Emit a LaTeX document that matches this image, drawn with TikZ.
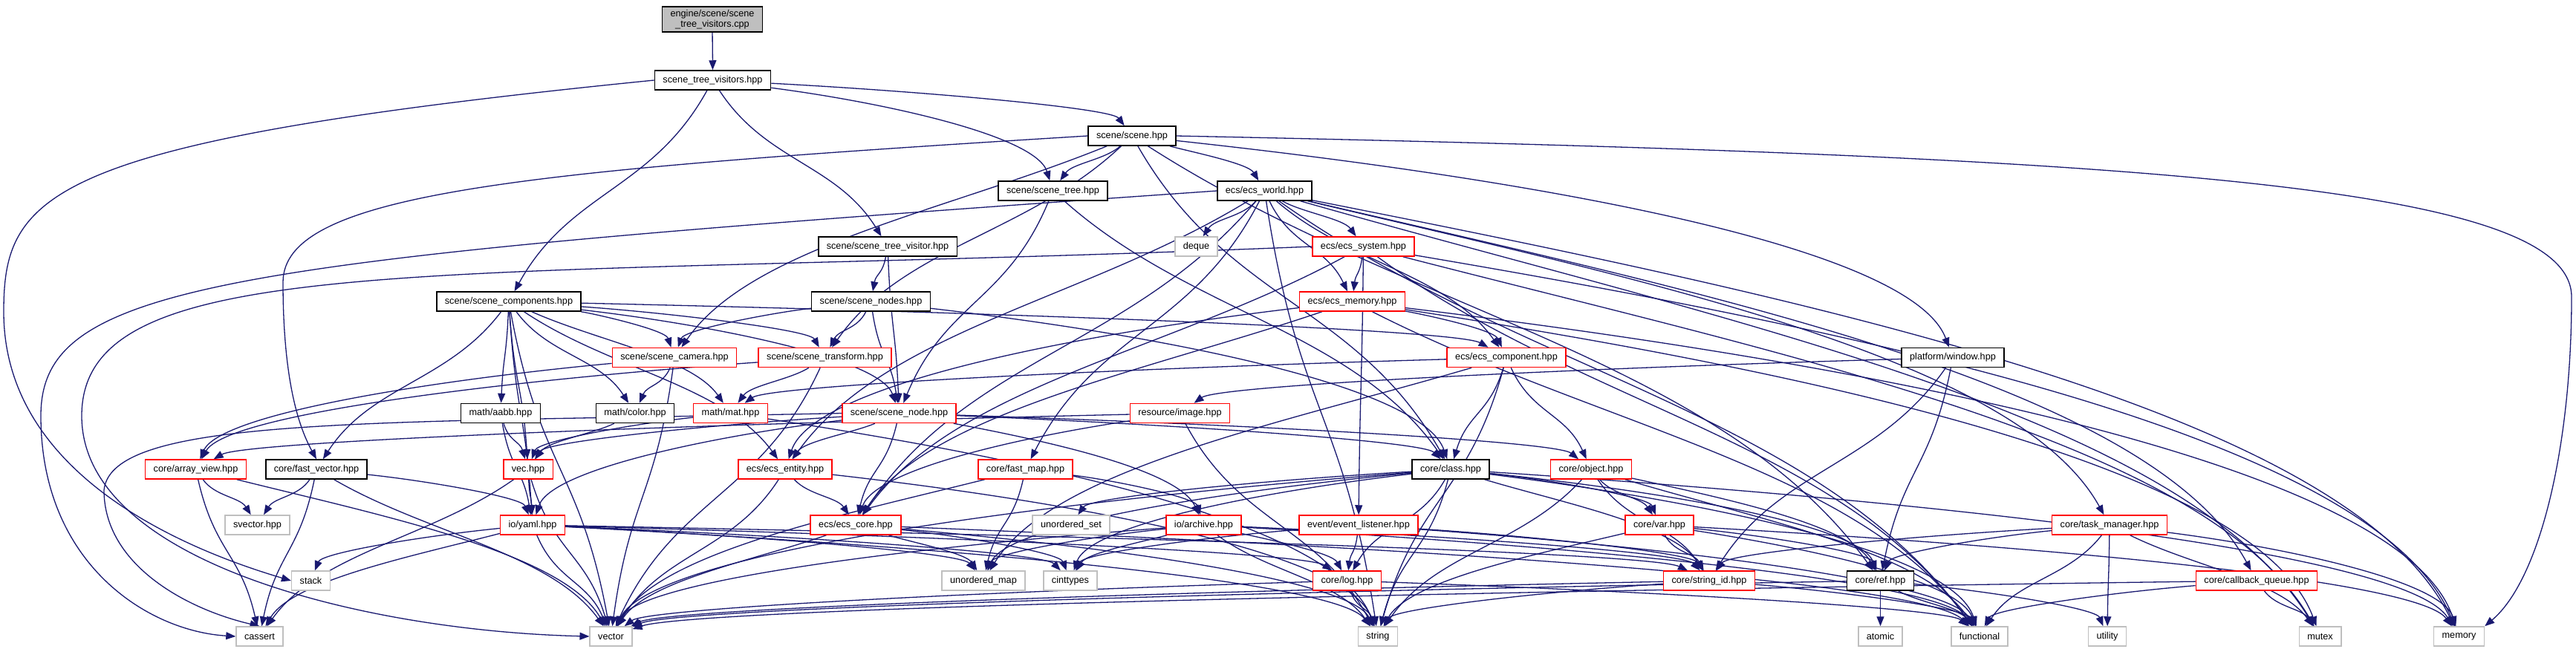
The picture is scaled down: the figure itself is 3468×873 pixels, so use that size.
\documentclass[tikz,border=0pt]{standalone}
\usepackage{fontspec}
\setmainfont{Liberation Sans}
\usetikzlibrary{arrows.meta,calc}
\definecolor{edgeblue}{RGB}{25,25,112}
\definecolor{sysgray}{RGB}{191,191,191}
\pgfdeclarelayer{bg}
\pgfsetlayers{bg,main}
\tikzset{
  file/.style={draw, line width=1.5pt, fill=white, minimum height=26pt,
    inner xsep=11pt, inner ysep=2pt, font=\fontsize{12.7}{14.5}\selectfont},
  hdr/.style={file, draw=black},
  trunc/.style={file, draw=red},
  sys/.style={file, draw=sysgray},
  edge/.style={draw=edgeblue, line width=1.3pt, -{Triangle[length=13pt,width=10pt]}},
}
\begin{document}
\begin{tikzpicture}[x=1pt,y=-1pt]
    \useasboundingbox (0,0) rectangle (3468,873);
    % files
    \node[hdr, fill=sysgray, align=center, inner ysep=4pt] (root) at (959,26) {engine/scene/scene\\\_tree\_visitors.cpp};
    \node[hdr] (stv) at (959.5,108) {scene\_tree\_visitors.hpp};
    \node[hdr] (scene) at (1524,183) {scene/scene.hpp};
    \node[hdr] (tree) at (1417.5,257) {scene/scene\_tree.hpp};
    \node[hdr] (world) at (1702.5,257) {ecs/ecs\_world.hpp};
    \node[hdr] (visitor) at (1195,332) {scene/scene\_tree\_visitor.hpp};
    \node[sys] (deque) at (1610.5,332) {deque};
    \node[trunc] (system) at (1835.5,332) {ecs/ecs\_system.hpp};
    \node[hdr] (comps) at (685,406) {scene/scene\_components.hpp};
    \node[hdr] (nodes) at (1172.5,406) {scene/scene\_nodes.hpp};
    \node[trunc] (ememory) at (1820.5,406) {ecs/ecs\_memory.hpp};
    \node[trunc] (camera) at (908,481.5) {scene/scene\_camera.hpp};
    \node[trunc] (transform) at (1110.5,481.5) {scene/scene\_transform.hpp};
    \node[trunc] (component) at (2028,481.5) {ecs/ecs\_component.hpp};
    \node[hdr] (window) at (2629,481.5) {platform/window.hpp};
    \node[hdr] (aabb) at (674,556.5) {math/aabb.hpp};
    \node[hdr] (color) at (855,556.5) {math/color.hpp};
    \node[trunc] (mat) at (983.5,556.5) {math/mat.hpp};
    \node[trunc] (node) at (1210.5,556.5) {scene/scene\_node.hpp};
    \node[trunc] (image) at (1588.5,556.5) {resource/image.hpp};
    \node[trunc] (arrayview) at (263.5,632) {core/array\_view.hpp};
    \node[hdr] (fastvec) at (426,632) {core/fast\_vector.hpp};
    \node[trunc] (vec) at (711,632) {vec.hpp};
    \node[trunc] (entity) at (1057,632) {ecs/ecs\_entity.hpp};
    \node[trunc] (fastmap) at (1380.5,632) {core/fast\_map.hpp};
    \node[hdr] (class) at (1953,632) {core/class.hpp};
    \node[trunc] (object) at (2142,632) {core/object.hpp};
    \node[sys] (svector) at (346.5,707) {svector.hpp};
    \node[trunc] (yaml) at (717,707) {io/yaml.hpp};
    \node[trunc] (ecore) at (1152,707) {ecs/ecs\_core.hpp};
    \node[sys] (uset) at (1442,707) {unordered\_set};
    \node[trunc] (archive) at (1620.5,707) {io/archive.hpp};
    \node[trunc] (listener) at (1829,707) {event/event\_listener.hpp};
    \node[trunc] (var) at (2234,707) {core/var.hpp};
    \node[trunc] (tmgr) at (2840,707) {core/task\_manager.hpp};
    \node[sys] (stack) at (418.5,782) {stack};
    \node[sys] (umap) at (1324,782) {unordered\_map};
    \node[sys] (cint) at (1441,782) {cinttypes};
    \node[trunc] (log) at (1813.5,782) {core/log.hpp};
    \node[trunc] (strid) at (2301,782) {core/string\_id.hpp};
    \node[hdr] (ref) at (2531.5,782) {core/ref.hpp};
    \node[trunc] (cbq) at (3038,782) {core/callback\_queue.hpp};
    \node[sys] (cassert) at (349.5,857) {cassert};
    \node[sys] (vector) at (822.5,857) {vector};
    \node[sys] (string) at (1855,857) {string};
    \node[sys] (atomic) at (2531.5,857) {atomic};
    \node[sys] (functional) at (2665,857) {functional};
    \node[sys] (utility) at (2837,857) {utility};
    \node[sys] (mutex) at (3123.5,857) {mutex};
    \node[sys] (memory) at (3310.5,857) {memory};

    \begin{pgfonlayer}{bg}
    % includes, bent like dot splines (flat ones leave sideways)
    \foreach \a/\b in {root/stv,
        stv/comps, stv/visitor, stv/tree, stv/scene,
        scene/tree, scene/world, scene/camera, scene/transform, scene/class, scene/window, scene/ref,
        tree/node, tree/class,
        world/deque, world/system, world/ememory, world/component, world/fastmap, world/entity,
        world/ecore, world/tmgr, world/cbq, world/functional, world/memory, world/mutex, world/string,
        visitor/nodes, visitor/node,
        system/ememory, system/ecore, system/listener, system/functional, system/memory, system/mutex,
        nodes/camera, nodes/transform, nodes/node, nodes/class,
        ememory/component, ememory/ecore, ememory/entity, ememory/functional, ememory/memory, ememory/mutex,
        comps/camera, comps/transform, comps/component, comps/aabb, comps/color, comps/mat, comps/node,
        comps/vec, comps/fastvec, comps/yaml, comps/entity, comps/vector,
        camera/color, camera/arrayview, camera/vector,
        transform/mat, transform/arrayview, transform/vector,
        component/mat, component/class, component/object, component/umap, component/string,
        window/image, window/strid, window/ref,
        aabb/vec, aabb/yaml, color/vec, mat/vec, mat/string,
        node/vec, node/yaml, node/ecore, node/entity, node/class, node/object, node/archive,
        image/arrayview, image/string, image/ecore,
        arrayview/svector, arrayview/cassert, arrayview/vector,
        fastvec/svector, fastvec/cassert, fastvec/vector, fastvec/yaml,
        vec/yaml, vec/cassert, vec/vector,
        entity/ecore, entity/vector, entity/string,
        fastmap/archive, fastmap/umap, fastmap/vector,
        class/uset, class/umap, class/cint, class/vector, class/string, class/log, class/var,
        class/strid, class/ref, class/functional, class/memory,
        object/var, object/strid, object/ref, object/string, object/functional,
        yaml/stack, yaml/cassert, yaml/vector, yaml/umap, yaml/cint, yaml/log, yaml/strid, yaml/string,
        ecore/umap, ecore/cint, ecore/string, ecore/vector, ecore/functional,
        archive/umap, archive/cint, archive/log, archive/strid, archive/vector, archive/string, archive/functional,
        listener/log, listener/strid, listener/functional, listener/cint,
        var/strid, var/ref, var/string, var/memory, var/functional,
        tmgr/strid, tmgr/ref, tmgr/functional, tmgr/utility, tmgr/mutex, tmgr/memory,
        log/string, log/vector, log/functional,
        strid/string, strid/functional, strid/vector,
        ref/atomic, ref/functional, ref/utility, ref/vector,
        cbq/functional, cbq/mutex, cbq/vector} {
        \draw[edge] let \p1=(\a), \p2=(\b),
            \n1={min(1,max(0,(abs(\x2-\x1)/abs(\y2-\y1)-1)/2))} in
            (\a) .. controls ({\x1+(0.3+0.2*\n1)*(\x2-\x1)},{\y1+0.5*(1-0.6*\n1)*(\y2-\y1)})
                 and ({\x1+(0.7+0.25*\n1)*(\x2-\x1)},{0.5*\y1+0.5*\y2}) .. (\b);
    }
    % long detours
    \draw[edge] (stv.west) .. controls (60,190) and (5,260) .. (5,420) .. controls (5,640) and (250,740) .. (stack.west);
    \draw[edge] (world.west) .. controls (300,350) and (55,380) .. (55,560) .. controls (55,760) and (200,850) .. (cassert.west);
    \draw[edge] (system.west) .. controls (600,380) and (110,330) .. (110,560) .. controls (110,760) and (500,850) .. (vector.west);
    \draw[edge] (scene.west) .. controls (700,230) and (381,260) .. (381,380) .. controls (381,520) and (405,580) .. (fastvec.north);
    \draw[edge] (node.west) .. controls (500,570) and (150,560) .. (140,660) .. controls (140,760) and (250,820) .. (cassert.north);
    \draw[edge] (scene.east) .. controls (2900,210) and (3462,250) .. (3462,400) .. controls (3462,600) and (3420,780) .. (memory.north east);
    \end{pgfonlayer}
\end{tikzpicture}
\end{document}
